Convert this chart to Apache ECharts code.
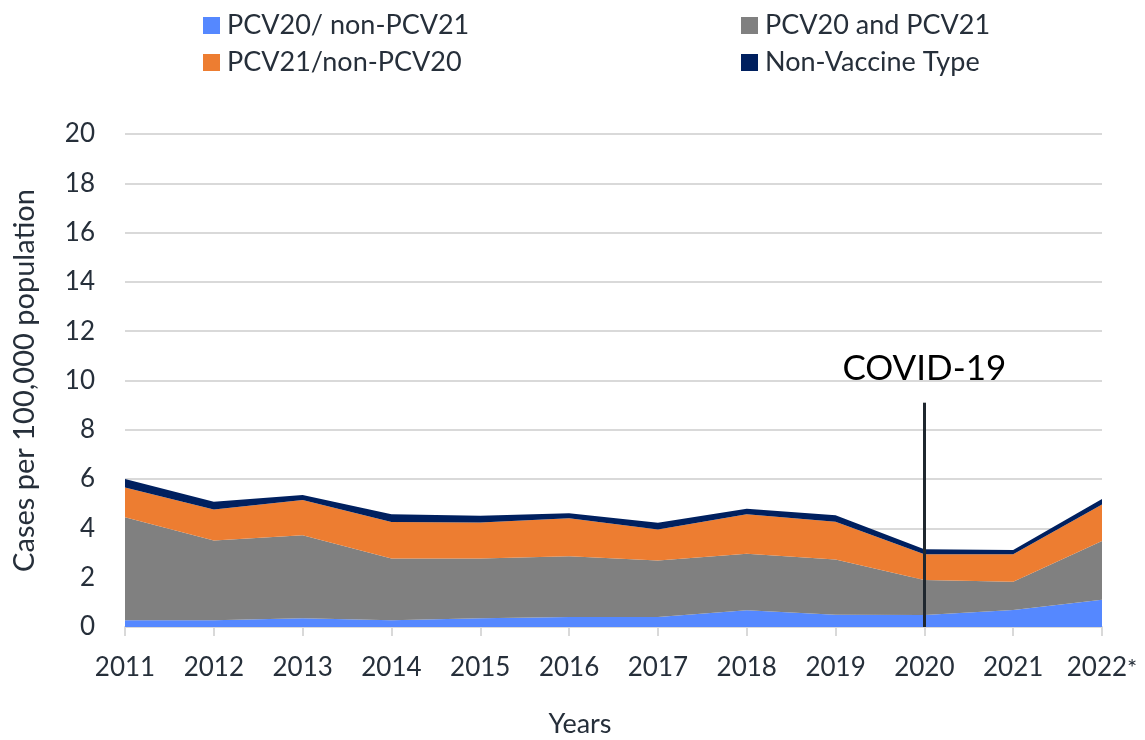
<!DOCTYPE html>
<html>
<head>
<meta charset="utf-8">
<script src="https://cdn.jsdelivr.net/npm/echarts@6/dist/echarts.min.js"></script>
<style>
html,body{margin:0;padding:0;background:#fff;}
#chart{width:1145px;height:740px;}
</style>
</head>
<body>
<div id="chart"></div>
<script>
var years = ['2011','2012','2013','2014','2015','2016','2017','2018','2019','2020','2021','2022*'];
var pcv20NonPcv21 = [0.27,0.27,0.36,0.27,0.36,0.41,0.41,0.68,0.50,0.49,0.69,1.11];
var pcv20AndPcv21 = [4.18,3.24,3.36,2.51,2.42,2.46,2.29,2.29,2.24,1.42,1.15,2.38];
var pcv21NonPcv20 = [1.21,1.26,1.43,1.48,1.46,1.54,1.26,1.60,1.53,1.04,1.11,1.48];
var nonVaccine   = [0.34,0.31,0.20,0.31,0.27,0.20,0.27,0.23,0.26,0.20,0.17,0.22];
var covidYearIndex = 9;
var covidLineTop = 9.1;

var FONT = 'Lato';
var TXT = '#262f3a';

function area(name, data, color) {
  return {
    name: name, type: 'line', stack: 'total', data: data,
    symbol: 'none', smooth: false,
    lineStyle: { width: 0, color: color },
    itemStyle: { color: color },
    areaStyle: { color: color, opacity: 1 }
  };
}

var chart = echarts.init(document.getElementById('chart'));
chart.setOption({
  animation: false,
  textStyle: { fontFamily: FONT },
  grid: { left: 125, right: 43, top: 134, bottom: 113, containLabel: false, outerBoundsMode: 'none' },
  legend: [
    {
      left: 198, top: 7, orient: 'vertical', itemGap: 10,
      itemWidth: 17, itemHeight: 17, icon: 'rect',
      data: ['PCV20/ non-PCV21', 'PCV21/non-PCV20'],
      textStyle: { fontFamily: FONT, fontSize: 27, color: TXT, padding: [0,0,0,2] }
    },
    {
      left: 736, top: 7, orient: 'vertical', itemGap: 10,
      itemWidth: 17, itemHeight: 17, icon: 'rect',
      data: ['PCV20 and PCV21', 'Non-Vaccine Type'],
      textStyle: { fontFamily: FONT, fontSize: 27, color: TXT, padding: [0,0,0,2] }
    }
  ],
  xAxis: {
    type: 'category', data: years, boundaryGap: false,
    name: 'Years', nameLocation: 'middle', nameGap: 84,
    nameTextStyle: { fontFamily: FONT, fontSize: 27, color: TXT, padding: [0, 67, 0, 0] },
    axisLine: { lineStyle: { color: '#d9d9d9', width: 2 } },
    axisTick: { show: true, length: 9, interval: 0, lineStyle: { color: '#d9d9d9', width: 2 } },
    axisLabel: {
      fontFamily: FONT, fontSize: 26, color: TXT, margin: 28, interval: 0, hideOverlap: false,
      formatter: function (v) { return v.indexOf('*') >= 0 ? v.replace('*', '') + '{s|*}' : v; },
      rich: { s: { fontFamily: FONT, fontSize: 24, color: TXT } }
    },
    splitLine: { show: false }
  },
  yAxis: {
    type: 'value', min: 0, max: 20, interval: 2,
    name: 'Cases per 100,000 population', nameLocation: 'middle', nameGap: 86,
    nameTextStyle: { fontFamily: FONT, fontSize: 29, color: TXT },
    axisLine: { show: false }, axisTick: { show: false },
    axisLabel: { fontFamily: FONT, fontSize: 26, color: TXT, margin: 30 },
    splitLine: { lineStyle: { color: '#d9d9d9', width: 2 } }
  },
  series: [
    area('PCV20/ non-PCV21', pcv20NonPcv21, '#5588ff'),
    area('PCV20 and PCV21', pcv20AndPcv21, '#808080'),
    area('PCV21/non-PCV20', pcv21NonPcv20, '#ed7d31'),
    area('Non-Vaccine Type', nonVaccine, '#00205f'),
    {
      name: 'covid', type: 'line', data: [], symbol: 'none', z: 10,
      markLine: {
        silent: true, symbol: ['none', 'none'],
        lineStyle: { color: '#1f272f', width: 3, type: 'solid' },
        label: { show: true, position: 'end', formatter: 'COVID-19', fontFamily: FONT, fontSize: 35, color: '#000', distance: 16 },
        data: [[ { coord: [covidYearIndex, 0] }, { coord: [covidYearIndex, covidLineTop] } ]]
      }
    }
  ]
});
</script>
</body>
</html>
